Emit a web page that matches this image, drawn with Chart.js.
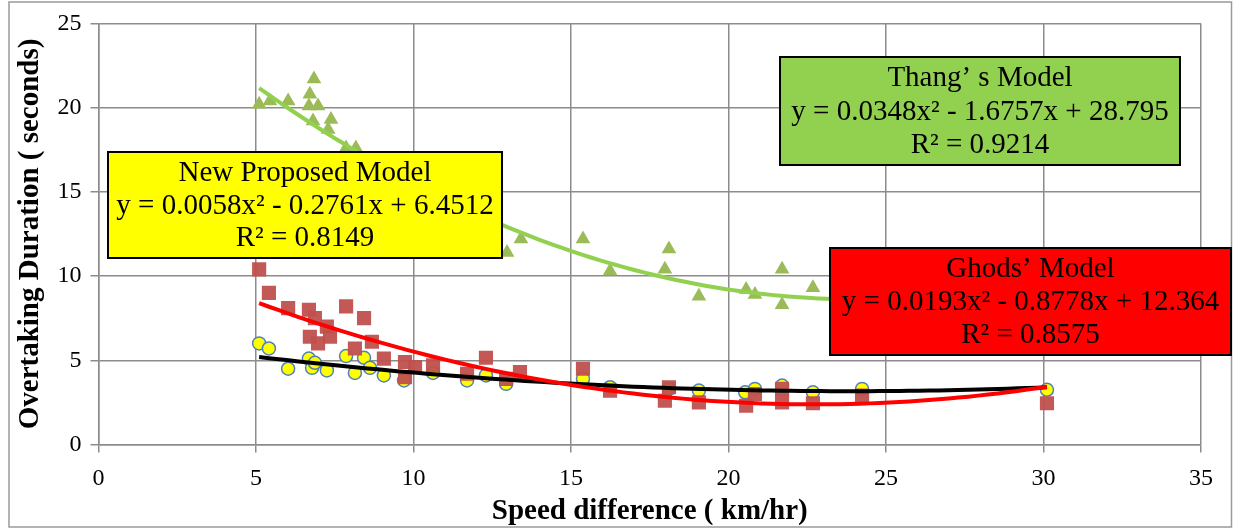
<!DOCTYPE html>
<html>
<head>
<meta charset="utf-8">
<script src="https://cdn.jsdelivr.net/npm/chart.js@4/dist/chart.umd.min.js"></script>
<style>
  html, body { margin: 0; padding: 0; background: #fff; }
  #wrap { width: 1233px; height: 529px; }
</style>
</head>
<body>
<div id="wrap"><canvas id="overtaking" width="1233" height="529"></canvas></div>
<script>
// observed overtaking durations (s) against speed difference (km/hr)
const thangX = [5.10, 5.44, 6.02, 6.84, 6.71, 6.68, 6.97, 6.81, 7.38, 7.29, 7.86, 8.17,
  12.97, 13.41, 15.38, 16.24, 18.11, 17.98, 19.06, 20.56, 20.84, 21.70, 21.70, 22.68];
const thangY = [20.2, 20.4, 20.4, 21.7, 20.8, 20.1, 20.1, 19.2, 19.3, 18.7, 17.6, 17.6,
  11.4, 12.2, 12.2, 10.3, 11.6, 10.4, 8.8, 9.2, 8.9, 10.4, 8.3, 9.3];

const ghodsX = [5.10, 5.41, 6.02, 6.68, 6.87, 7.25, 7.86, 8.43, 6.71, 6.97, 7.35, 8.14, 8.68,
  9.06, 9.73, 9.73, 10.05, 10.62, 11.70, 12.30, 12.94, 13.38, 15.38, 16.24, 18.11, 17.98,
  19.06, 20.56, 20.84, 21.70, 21.70, 22.68, 24.24, 30.11];
const ghodsY = [10.4, 9.0, 8.1, 8.0, 7.5, 7.0, 8.2, 7.5, 6.4, 6.0, 6.4, 5.7, 6.1,
  5.1, 4.9, 4.0, 4.6, 4.7, 4.2, 5.15, 3.9, 4.3, 4.5, 3.2, 3.4, 2.6,
  2.5, 2.3, 3.0, 3.3, 2.5, 2.45, 2.9, 2.45];

const newX = [5.10, 5.41, 6.02, 6.68, 6.78, 6.87, 7.25, 7.86, 8.14, 8.43, 8.62, 9.06, 9.70,
  10.62, 11.70, 12.30, 12.94, 15.38, 16.24, 18.11, 19.06, 20.53, 20.84, 21.70, 22.68, 24.24, 30.11];
const newY = [6.0, 5.7, 4.5, 5.1, 4.55, 4.85, 4.4, 5.25, 4.25, 5.15, 4.55, 4.1, 3.8,
  4.25, 3.8, 4.1, 3.6, 3.9, 3.4, 3.3, 3.2, 3.1, 3.3, 3.5, 3.1, 3.3, 3.25];

// quadratic fits [a, b, c] for y = a x^2 + b x + c, as printed in the boxes
const thangFit = [0.0348, -1.6757, 28.795];
const ghodsFit = [0.0193, -0.8778, 12.364];
const newFit = [0.0058, -0.2761, 6.4512];
const thangR2 = '0.9214';
const ghodsR2 = '0.8575';
const newR2 = '0.8149';

const xTicks = [0, 5, 10, 15, 20, 25, 30, 35];
const yTicks = [0, 5, 10, 15, 20, 25];

const SERIF = "'Liberation Serif', 'Times New Roman', serif";

function pts(xs, ys) {
  return xs.map((x, i) => ({ x: x, y: ys[i] }));
}

function curve(fit, x0, x1) {
  const out = [];
  const n = 80;
  for (let i = 0; i <= n; i++) {
    const x = x0 + (x1 - x0) * i / n;
    out.push({ x: x, y: fit[0] * x * x + fit[1] * x + fit[2] });
  }
  return out;
}

function eqText(fit) {
  const f = v => Math.abs(v).toString();
  return 'y = ' + f(fit[0]) + 'x\u00B2 ' + (fit[1] < 0 ? '- ' : '+ ') + f(fit[1]) +
    'x ' + (fit[2] < 0 ? '- ' : '+ ') + f(fit[2]);
}

// label boxes, placed in canvas pixels
const boxes = [
  { x: 108, y: 152, w: 394, h: 106, fill: '#ffff00',
    lines: ['New Proposed Model', eqText(newFit), 'R\u00B2 = ' + newR2] },
  { x: 780, y: 57, w: 400, h: 108, fill: '#92d050',
    lines: ['Thang\u2019 s Model', eqText(thangFit), 'R\u00B2 = ' + thangR2] },
  { x: 830, y: 248, w: 401, h: 107, fill: '#ff0000',
    lines: ['Ghods\u2019 Model', eqText(ghodsFit), 'R\u00B2 = ' + ghodsR2] }
];

const framePlugin = {
  id: 'frame',
  beforeDraw(chart) {
    const ctx = chart.ctx;
    ctx.save();
    ctx.fillStyle = '#fff';
    ctx.fillRect(0, 0, chart.width, chart.height);
    ctx.strokeStyle = '#9a9a9a';
    ctx.lineWidth = 1.5;
    ctx.strokeRect(9, 2, 1222.5, 525);
    ctx.restore();
  },
  afterDraw(chart) {
    const ctx = chart.ctx;
    ctx.save();
    boxes.forEach(b => {
      ctx.fillStyle = b.fill;
      ctx.fillRect(b.x, b.y, b.w, b.h);
      ctx.strokeStyle = '#000';
      ctx.lineWidth = 2;
      ctx.strokeRect(b.x, b.y, b.w, b.h);
      ctx.fillStyle = '#000';
      ctx.font = '29px ' + SERIF;
      ctx.textAlign = 'center';
      ctx.textBaseline = 'middle';
      const step = b.h / 3.25;
      b.lines.forEach((t, i) => {
        ctx.fillText(t, b.x + b.w / 2, b.y + b.h / 2 + 1 + (i - 1) * step);
      });
    });
    ctx.restore();
  }
};

const gridColor = '#8c8c8c';

new Chart(document.getElementById('overtaking'), {
  type: 'scatter',
  data: {
    datasets: [
      { type: 'line', data: curve(ghodsFit, 5.1, 30.11), borderColor: '#ff0000', borderWidth: 4,
        pointRadius: 0, fill: false, order: 1 },
      { type: 'line', data: curve(newFit, 5.1, 30.11), borderColor: '#000000', borderWidth: 4,
        pointRadius: 0, fill: false, order: 2 },
      { type: 'line', data: curve(thangFit, 5.1, 24.3), borderColor: '#92d050', borderWidth: 4,
        pointRadius: 0, fill: false, order: 3 },
      { label: 'Ghods', data: pts(ghodsX, ghodsY), pointStyle: 'rect', pointRadius: 10,
        backgroundColor: 'rgba(192,80,77,0.95)', borderWidth: 0, order: 4 },
      { label: 'New', data: pts(newX, newY), pointStyle: 'circle', pointRadius: 6.5,
        backgroundColor: '#ffff00', borderColor: '#4f81bd', borderWidth: 1.5, order: 5 },
      { label: 'Thang', data: pts(thangX, thangY), pointStyle: 'triangle', pointRadius: 8.5,
        backgroundColor: '#9bbb59', borderWidth: 0, order: 6 }
    ]
  },
  options: {
    responsive: false,
    animation: false,
    events: [],
    layout: { padding: { left: 9, right: 32, top: 20, bottom: 0 } },
    plugins: { legend: { display: false }, tooltip: { enabled: false } },
    scales: {
      x: {
        type: 'linear', min: 0, max: 35,
        afterBuildTicks: s => { s.ticks = xTicks.map(v => ({ value: v })); },
        afterFit: s => { s.height = 84.5; },
        ticks: { color: '#000', font: { family: SERIF, size: 24 }, padding: 12 },
        grid: { color: gridColor, lineWidth: 1.5, tickLength: 8 },
        border: { color: gridColor, width: 1.5 },
        title: { display: true, text: 'Speed difference ( km/hr)', color: '#000',
          font: { family: SERIF, size: 29, weight: 'bold' }, padding: { top: 0, bottom: 0 } }
      },
      y: {
        type: 'linear', min: 0, max: 25,
        afterBuildTicks: s => { s.ticks = yTicks.map(v => ({ value: v })); },
        afterFit: s => { s.width = 89.5; },
        ticks: { color: '#000', font: { family: SERIF, size: 24 }, padding: 9 },
        grid: { color: gridColor, lineWidth: 1.5, tickLength: 8 },
        border: { color: gridColor, width: 1.5 },
        title: { display: true, text: 'Overtaking Duration ( seconds)', color: '#000',
          font: { family: SERIF, size: 29, weight: 'bold' }, padding: { top: 4, bottom: 0 } }
      }
    }
  },
  plugins: [framePlugin]
});
</script>
</body>
</html>
